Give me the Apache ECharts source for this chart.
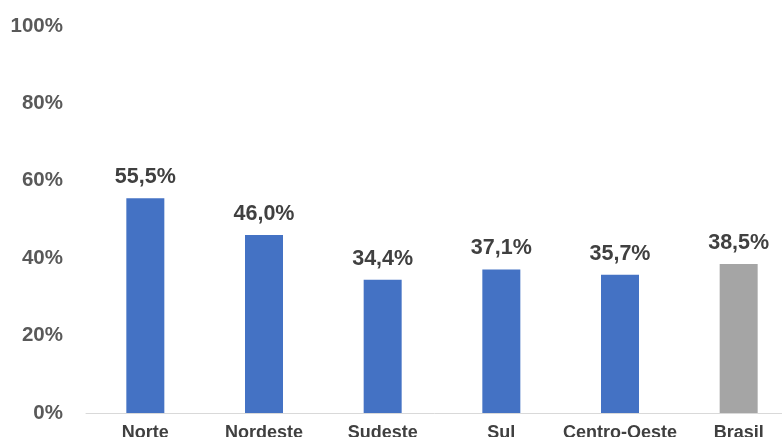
<!DOCTYPE html>
<html>
<head>
<meta charset="utf-8">
<script src="https://cdn.jsdelivr.net/npm/echarts@6/dist/echarts.min.js"></script>
<style>
  html, body { margin:0; padding:0; background:#fff; }
  #chart { width:782px; height:437px; }
</style>
</head>
<body>
<div id="chart"></div>
<script>
var categories = ['Norte','Nordeste','Sudeste','Sul','Centro-Oeste','Brasil'];
var values = [55.5, 46.0, 34.4, 37.1, 35.7, 38.5];
var yTicks = [0, 20, 40, 60, 80, 100];

var blue = '#4472C4', gray = '#A5A5A5';
var font = 'Liberation Sans, Arial, sans-serif';

var chart = echarts.init(document.getElementById('chart'));
chart.setOption({
  animation: false,
  grid: { left: 86, width: 712, top: 26, bottom: 24, outerBoundsMode: 'none', containLabel: false },
  xAxis: {
    type: 'category',
    data: categories,
    axisLine: { lineStyle: { color: '#d9d9d9', width: 1 } },
    axisTick: { show: false },
    axisLabel: {
      interval: 0,
      margin: 11,
      color: '#404040',
      fontSize: 18,
      fontWeight: 'bold',
      fontFamily: font
    }
  },
  yAxis: {
    type: 'value',
    min: yTicks[0],
    max: yTicks[yTicks.length - 1],
    interval: 20,
    splitLine: { show: false },
    axisLine: { show: false },
    axisTick: { show: false },
    axisLabel: {
      margin: 23,
      color: '#595959',
      fontSize: 20.5,
      fontWeight: 'bold',
      fontFamily: font,
      formatter: function (v) { return v + '%'; }
    }
  },
  series: [{
    type: 'bar',
    barWidth: 38,
    data: values.map(function (v, i) {
      return { value: v, itemStyle: { color: categories[i] === 'Brasil' ? gray : blue } };
    }),
    label: {
      show: true,
      position: 'top',
      distance: 10,
      color: '#404040',
      fontSize: 21.5,
      fontWeight: 'bold',
      fontFamily: font,
      formatter: function (p) { return p.value.toFixed(1).replace('.', ',') + '%'; }
    }
  }]
});
</script>
</body>
</html>
